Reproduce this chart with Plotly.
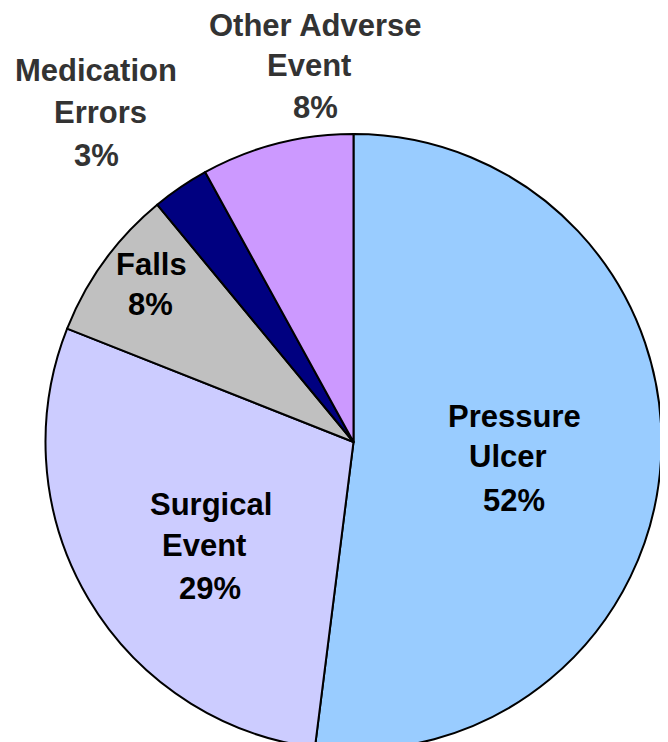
import plotly.graph_objects as go

# Data
categories = ["Pressure Ulcer", "Surgical Event", "Falls", "Medication Errors", "Other Adverse Event"]
values = [52, 29, 8, 3, 8]
colors = ["#99CCFF", "#CCCCFF", "#C0C0C0", "#000080", "#CC99FF"]

# label text lines for each slice
label_lines = [
    ["Pressure", "Ulcer", "52%"],
    ["Surgical", "Event", "29%"],
    ["Falls", "8%"],
    ["Medication", "Errors", "3%"],
    ["Other Adverse", "Event", "8%"],
]
# (x, y) pixel centres for each label line in the page (layout only)
label_pos = [
    [(514, 416), (508, 457), (514, 500)],
    [(211, 504), (204, 545), (210, 588)],
    [(151, 264), (150, 305)],
    [(96, 71), (100, 113), (96, 155)],
    [(315, 25), (309, 65), (315, 107)],
]
label_colors = ["#000000", "#000000", "#000000", "#333333", "#333333"]

W, H = 668, 742
OFF = 8  # default page body margin
cx, cy, r = 353.5 - OFF, 442 - OFF, 308

fig = go.Figure(go.Pie(
    labels=categories,
    values=values,
    sort=False,
    direction="clockwise",
    rotation=0,
    marker=dict(colors=colors, line=dict(color="black", width=2)),
    textinfo="none",
    hoverinfo="label+percent",
    showlegend=False,
    domain=dict(x=[(cx - r) / W, (cx + r) / W],
                y=[max(0, (H - cy - r) / H), (H - cy + r) / H]),
))

annotations = []
for lines, poss, col in zip(label_lines, label_pos, label_colors):
    for txt, (x, y) in zip(lines, poss):
        annotations.append(dict(
            x=(x - OFF) / W, y=1 - (y - OFF) / H, xref="paper", yref="paper",
            text="<b>" + txt + "</b>", showarrow=False,
            xanchor="center", yanchor="middle",
            font=dict(family="Liberation Sans, Arial, sans-serif", size=31, color=col),
        ))

fig.update_layout(
    width=W, height=H, autosize=False,
    margin=dict(l=0, r=0, t=0, b=0),
    paper_bgcolor="white", plot_bgcolor="white",
    annotations=annotations,
)

fig.write_html("out.html")
